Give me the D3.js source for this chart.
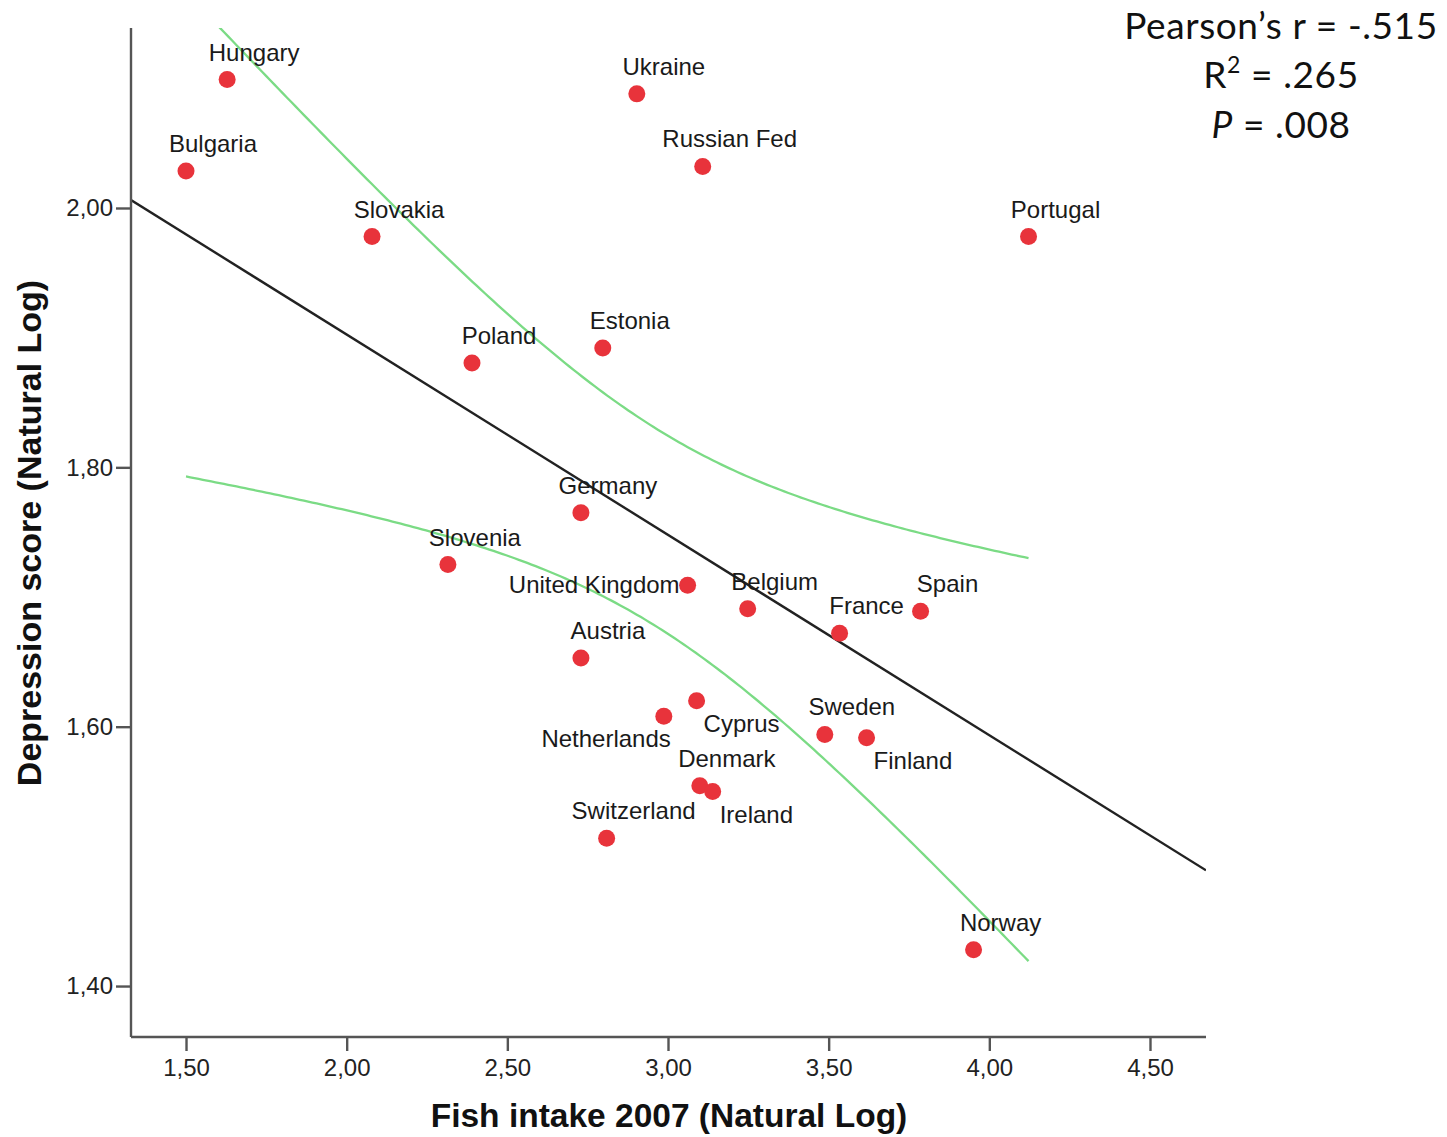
<!DOCTYPE html>
<html>
<head>
<meta charset="utf-8">
<script src="https://cdn.jsdelivr.net/npm/d3@7"></script>
<style>
  html, body { margin: 0; padding: 0; background: #ffffff; }
  svg { display: block; }
</style>
</head>
<body>
<div id="chart"></div>
<script>
// Country-level fish intake vs. depression score (both natural log)
const countries = [
  "Hungary", "Bulgaria", "Slovakia", "Ukraine", "Russian Fed", "Portugal",
  "Estonia", "Poland", "Germany", "Slovenia", "United Kingdom", "Belgium",
  "France", "Spain", "Austria", "Cyprus", "Netherlands", "Sweden",
  "Finland", "Denmark", "Ireland", "Switzerland", "Norway"
];
const fishIntake = [
  1.628, 1.500, 2.079, 2.903, 3.108, 4.122,
  2.797, 2.390, 2.729, 2.315, 3.061, 3.248,
  3.534, 3.786, 2.729, 3.089, 2.987, 3.488,
  3.618, 3.099, 3.139, 2.809, 3.951
];
const depressionScore = [
  2.099, 2.0285, 1.978, 2.088, 2.032, 1.978,
  1.892, 1.8805, 1.765, 1.725, 1.709, 1.691,
  1.672, 1.689, 1.653, 1.620, 1.608, 1.594,
  1.5915, 1.5545, 1.550, 1.514, 1.428
];

// Where each country's name sits relative to its marker
const labelSide = {
  "United Kingdom": "left",
  "Cyprus": "below",
  "Finland": "below",
  "Ireland": "below",
  "Netherlands": "belowLeft"
};

const xTicks = [1.5, 2.0, 2.5, 3.0, 3.5, 4.0, 4.5];
const yTicks = [1.4, 1.6, 1.8, 2.0];

const statLines = ["Pearson\u2019s r = -.515", "R2 = .265", "P = .008"];

// two-sided 95% t critical value, df = n - 2 = 21
const T_CRIT = 2.080;

(function () {
  const W = 1447, H = 1137;
  const pLeft = 131, pRight = 1206, pTop = 28, pBottom = 1037;

  const svg = d3.select("#chart").append("svg")
    .attr("width", W).attr("height", H)
    .attr("font-family", "'Liberation Sans', Arial, sans-serif");

  const x = d3.scaleLinear().domain([1.3288, 4.6743]).range([pLeft, pRight]);
  const y = d3.scaleLinear().domain([1.3607, 2.1388]).range([pBottom, pTop]);

  const pts = countries.map((c, i) => ({ name: c, x: fishIntake[i], y: depressionScore[i] }));

  // Least-squares fit and 95% confidence band for the mean
  const n = pts.length;
  const xbar = d3.mean(pts, d => d.x);
  const ybar = d3.mean(pts, d => d.y);
  const sxx = d3.sum(pts, d => (d.x - xbar) ** 2);
  const sxy = d3.sum(pts, d => (d.x - xbar) * (d.y - ybar));
  const slope = sxy / sxx;
  const intercept = ybar - slope * xbar;
  const fit = v => intercept + slope * v;
  const sse = d3.sum(pts, d => (d.y - fit(d.x)) ** 2);
  const se = Math.sqrt(sse / (n - 2));
  const halfBand = v => T_CRIT * se * Math.sqrt(1 / n + (v - xbar) ** 2 / sxx);

  svg.append("defs").append("clipPath").attr("id", "plot-clip")
    .append("rect").attr("x", pLeft).attr("y", pTop)
    .attr("width", pRight - pLeft).attr("height", pBottom - pTop);

  const plot = svg.append("g").attr("clip-path", "url(#plot-clip)");

  const xmin = d3.min(fishIntake), xmax = d3.max(fishIntake);
  const bandX = d3.range(0, 201).map(k => xmin + (xmax - xmin) * k / 200);
  const line = d3.line().x(d => x(d[0])).y(d => y(d[1]));

  plot.append("path")
    .attr("d", line(bandX.map(v => [v, fit(v) + halfBand(v)])))
    .attr("fill", "none").attr("stroke", "#7bdb85").attr("stroke-width", 2.3);
  plot.append("path")
    .attr("d", line(bandX.map(v => [v, fit(v) - halfBand(v)])))
    .attr("fill", "none").attr("stroke", "#7bdb85").attr("stroke-width", 2.3);

  const [d0, d1] = x.domain();
  plot.append("path")
    .attr("d", line([[d0, fit(d0)], [d1, fit(d1)]]))
    .attr("fill", "none").attr("stroke", "#222222").attr("stroke-width", 2.4);

  // Axes
  const axisColor = "#555555";
  const fmt = d => d3.format(".2f")(d).replace(".", ",");
  const xAxis = svg.append("g").attr("transform", `translate(0,${pBottom})`)
    .call(d3.axisBottom(x).tickValues(xTicks).tickSize(14).tickPadding(8).tickFormat(fmt));
  const yAxis = svg.append("g").attr("transform", `translate(${pLeft},0)`)
    .call(d3.axisLeft(y).tickValues(yTicks).tickSize(15).tickPadding(3).tickFormat(fmt));

  [xAxis, yAxis].forEach(g => {
    g.select(".domain").attr("stroke", axisColor).attr("stroke-width", 2.4);
    g.selectAll(".tick line").attr("stroke", axisColor).attr("stroke-width", 2.4);
    g.selectAll(".tick text").attr("fill", "#222222")
      .attr("font-size", 24).attr("font-family", "'Liberation Sans', Arial, sans-serif");
  });
  // axis lines meet at the corner without outer tick stubs
  xAxis.select(".domain").attr("d", `M${pLeft},0H${pRight}`);
  yAxis.select(".domain").attr("d", `M0,${pTop}V${pBottom}`);

  // Axis titles
  svg.append("text")
    .attr("x", (pLeft + pRight) / 2 + 0.5).attr("y", 1127)
    .attr("text-anchor", "middle")
    .attr("font-size", 33.5).attr("font-weight", "bold").attr("fill", "#111111")
    .text("Fish intake 2007 (Natural Log)");

  svg.append("text")
    .attr("transform", "translate(41,533) rotate(-90)")
    .attr("text-anchor", "middle")
    .attr("font-size", 34).attr("font-weight", "bold").attr("fill", "#111111")
    .text("Depression score (Natural Log)");

  // Markers
  svg.append("g").selectAll("circle").data(pts).join("circle")
    .attr("cx", d => x(d.x)).attr("cy", d => y(d.y)).attr("r", 8.5)
    .attr("fill", "#e8333b");

  // Country names
  const place = {
    above:     { dx: 27, dy: -19, anchor: "middle" },
    below:     { dx: 7,  dy: 31,  anchor: "start" },
    belowLeft: { dx: 7,  dy: 31,  anchor: "end" },
    left:      { dx: -8, dy: 8,   anchor: "end" }
  };
  svg.append("g").selectAll("text").data(pts).join("text")
    .each(function (d) {
      const p = place[labelSide[d.name] || "above"];
      d3.select(this)
        .attr("x", x(d.x) + p.dx).attr("y", y(d.y) + p.dy)
        .attr("text-anchor", p.anchor);
    })
    .attr("font-size", 24).attr("fill", "#1a1a1a")
    .text(d => d.name);

  // Correlation summary
  const stats = svg.append("g")
    .attr("font-family", "Lato, 'Open Sans', sans-serif")
    .attr("font-size", 37).attr("letter-spacing", 0.6).attr("fill", "#111111")
    .attr("text-anchor", "middle");
  stats.append("text").attr("x", 1281).attr("y", 39).text(statLines[0]);
  const r2 = stats.append("text").attr("x", 1281).attr("y", 88);
  r2.append("tspan").text("R");
  r2.append("tspan").attr("font-size", 23).attr("dy", -15).text("2");
  r2.append("tspan").attr("dy", 15).text(" = .265");
  const pl = stats.append("text").attr("x", 1281).attr("y", 138);
  pl.append("tspan").attr("font-style", "italic").text("P");
  pl.append("tspan").text(" = .008");
})();
</script>
</body>
</html>
